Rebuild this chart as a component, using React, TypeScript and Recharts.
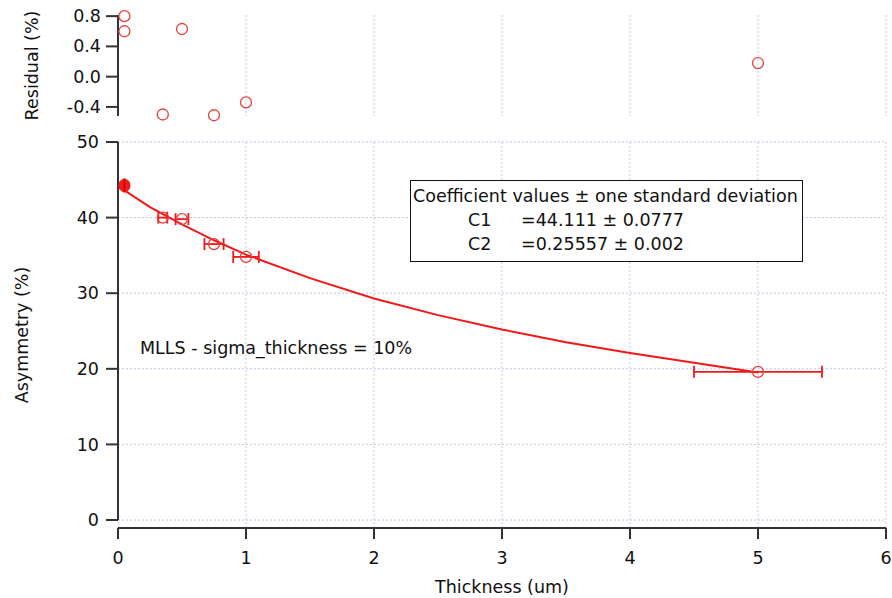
import {
  ScatterChart,
  ComposedChart,
  Scatter,
  Line,
  XAxis,
  YAxis,
  CartesianGrid,
  ErrorBar,
  ReferenceLine,
} from "recharts";

// measured points (thickness in um, asymmetry in %)
const thickness = [0.05, 0.05, 0.35, 0.5, 0.75, 1, 5];
const asymmetry = [44.35, 44.15, 40.0, 39.8, 36.5, 34.8, 19.6];
const thicknessErr = [0.005, 0.005, 0.035, 0.05, 0.075, 0.1, 0.5];
const residual = [0.8, 0.6, -0.5, 0.63, -0.51, -0.34, 0.18];

// fitted curve
const fitX = [0.05, 0.25, 0.5, 0.75, 1, 1.5, 2, 2.5, 3, 3.5, 4, 4.5, 5];
const fitY = [43.6, 41.4, 39.1, 37.0, 35.1, 32.0, 29.3, 27.1, 25.2, 23.5, 22.1, 20.8, 19.5];

const xTicks = [0, 1, 2, 3, 4, 5, 6];
const yTicks = [0, 10, 20, 30, 40, 50];
const residualTicks = [-0.4, -0.2, 0, 0.2, 0.4, 0.6, 0.8];
const residualLabels = [-0.4, 0, 0.4, 0.8];

const FONT = "'DejaVu Sans', sans-serif";
const FS = 17.5;
const RED = "#f01818";
const CIRCLE = "#e8403c";
const GRID = "#c4c4ec";
const AXIS = "#333";

const points = thickness.map((x, i) => ({ x, y: asymmetry[i], err: thicknessErr[i] }));
const thinPoints = points.slice(0, 2);
const otherPoints = points.slice(2);
const residualPoints = thickness.map((x, i) => ({ x, r: residual[i] }));
const fitData = fitX.map((x, i) => ({ x, y: fitY[i] }));

const OpenCircle = (props: any) => (
  <circle cx={props.cx} cy={props.cy} r={5.5} fill="none" stroke={CIRCLE} strokeWidth={1.3} />
);

const FilledCircle = (props: any) => (
  <g>
    <circle cx={props.cx} cy={props.cy} r={5.5} fill={RED} fillOpacity={0.85} stroke={RED} />
    <line x1={props.cx} y1={props.cy - 6} x2={props.cx} y2={props.cy + 6} stroke="#c00" strokeWidth={1.5} />
  </g>
);

const ResidualTick = (props: any) => {
  const { x, y, payload } = props;
  const v = payload.value;
  const major = residualLabels.some((m) => Math.abs(m - v) < 1e-6);
  return (
    <g>
      <line x1={x - (major ? 12 : 6)} y1={y} x2={x} y2={y} stroke={AXIS} strokeWidth={2} />
      {major && (
        <text x={x - 17} y={y} dy={6} textAnchor="end" fontSize={FS} fill="#111" fontFamily={FONT}>
          {v.toFixed(1)}
        </text>
      )}
    </g>
  );
};

export default function App() {
  return (
    <div style={{ position: "absolute", left: 0, top: 0, width: 892, height: 598, background: "#fff", fontFamily: FONT }}>
      <div style={{ position: "absolute", left: 0, top: 0 }}>
        <ComposedChart width={892} height={598} margin={{ top: 142, right: 6, bottom: 0, left: 0 }}>
          <CartesianGrid stroke={GRID} strokeDasharray="2 2" />
          <XAxis
            type="number"
            dataKey="x"
            domain={[0, 6]}
            ticks={xTicks}
            allowDataOverflow
            height={70}
            tickSize={11}
            tickMargin={13}
            axisLine={{ stroke: AXIS, strokeWidth: 2 }}
            tickLine={{ stroke: AXIS, strokeWidth: 2 }}
            tick={{ fill: "#111", fontSize: FS, fontFamily: FONT }}
            label={{ value: "Thickness (um)", position: "insideBottom", offset: 5, style: { fontSize: FS, fill: "#111", fontFamily: FONT } }}
          />
          <YAxis
            type="number"
            domain={[-1.058, 50]}
            ticks={yTicks}
            allowDataOverflow
            width={118}
            tickSize={12}
            tickMargin={7}
            axisLine={false}
            tickLine={{ stroke: AXIS, strokeWidth: 2 }}
            tick={{ fill: "#111", fontSize: FS, fontFamily: FONT }}
            label={{ value: "Asymmetry (%)", angle: -90, position: "insideLeft", offset: 22, style: { textAnchor: "middle", fontSize: FS, fill: "#111", fontFamily: FONT } }}
          />
          <ReferenceLine segment={[{ x: 0, y: 0 }, { x: 0, y: 50 }]} stroke={AXIS} strokeWidth={2} ifOverflow="visible" />
          <Line data={fitData} dataKey="y" type="linear" stroke={RED} strokeWidth={2} dot={false} isAnimationActive={false} />
          <Scatter data={otherPoints} dataKey="y" shape={OpenCircle} isAnimationActive={false}>
            <ErrorBar dataKey="err" direction="x" width={6} stroke={RED} strokeWidth={1.8} />
          </Scatter>
          <Scatter data={thinPoints} dataKey="y" shape={FilledCircle} isAnimationActive={false}>
            <ErrorBar dataKey="err" direction="x" width={6} stroke={RED} strokeWidth={1.8} />
          </Scatter>
        </ComposedChart>
      </div>

      <div style={{ position: "absolute", left: 0, top: 0 }}>
        <ScatterChart width={892} height={130} margin={{ top: 15, right: 6, bottom: 14, left: 0 }}>
          <CartesianGrid stroke={GRID} strokeDasharray="2 2" horizontal={false} />
          <XAxis type="number" dataKey="x" domain={[0, 6]} ticks={xTicks} hide />
          <YAxis
            type="number"
            dataKey="r"
            domain={[-0.52, 0.815]}
            ticks={residualTicks}
            width={118}
            tickSize={0}
            tickMargin={0}
            tickLine={false}
            axisLine={{ stroke: AXIS, strokeWidth: 2 }}
            tick={ResidualTick}
            label={{ value: "Residual (%)", angle: -90, position: "insideLeft", offset: 32, style: { textAnchor: "middle", fontSize: FS, fill: "#111", fontFamily: FONT } }}
          />
          <Scatter data={residualPoints} dataKey="r" shape={OpenCircle} isAnimationActive={false} />
        </ScatterChart>
      </div>

      <div style={{ position: "absolute", left: 140, top: 337, fontSize: FS, lineHeight: "22px", color: "#111", whiteSpace: "nowrap" }}>
        MLLS - sigma_thickness = 10%
      </div>

      <div
        style={{
          position: "absolute",
          left: 410,
          top: 180,
          width: 393,
          height: 82,
          boxSizing: "border-box",
          border: "1.5px solid #111",
          background: "#fff",
          fontSize: FS,
          color: "#111",
          whiteSpace: "nowrap",
        }}
      >
        <div style={{ position: "absolute", left: 2, top: 4, lineHeight: "22px" }}>
          Coefficient values ± one standard deviation
        </div>
        <div style={{ position: "absolute", left: 57, top: 28, lineHeight: "22px" }}>C1</div>
        <div style={{ position: "absolute", left: 110, top: 28, lineHeight: "22px" }}>=44.111 ± 0.0777</div>
        <div style={{ position: "absolute", left: 57, top: 52, lineHeight: "22px" }}>C2</div>
        <div style={{ position: "absolute", left: 110, top: 52, lineHeight: "22px" }}>=0.25557 ± 0.002</div>
      </div>
    </div>
  );
}
